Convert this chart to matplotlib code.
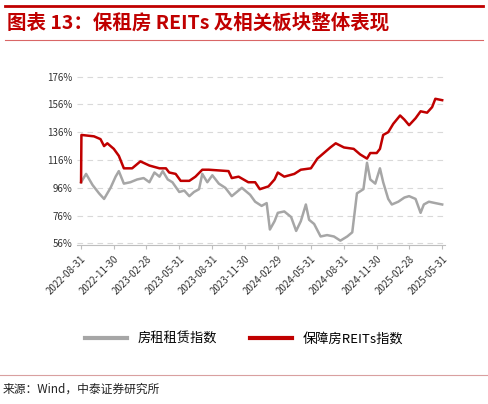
import matplotlib
matplotlib.use("Agg")
import matplotlib.pyplot as plt
import pandas as pd
from matplotlib.lines import Line2D

plt.rcParams['font.family'] = ['Noto Sans CJK SC', 'DejaVu Sans']

red_dates = ["2022-08-31","2022-09-01","2022-10-06","2022-10-24","2022-11-03","2022-11-12","2022-11-30","2022-12-14","2022-12-28",
 "2023-01-20","2023-02-12","2023-03-09","2023-04-06","2023-04-24","2023-05-03","2023-05-21","2023-06-04","2023-06-28",
 "2023-07-15","2023-08-03","2023-08-21","2023-10-15","2023-10-24","2023-11-12","2023-12-09","2023-12-28","2024-01-10",
 "2024-02-03","2024-02-20","2024-02-29","2024-03-18","2024-04-15","2024-05-03","2024-05-31","2024-06-18","2024-07-24",
 "2024-08-08","2024-08-31","2024-09-27","2024-10-15","2024-11-03","2024-11-12","2024-11-30","2024-12-09","2024-12-18",
 "2025-01-01","2025-01-15","2025-02-03","2025-02-15","2025-02-28","2025-03-18","2025-04-01","2025-04-19","2025-05-03",
 "2025-05-12","2025-05-31"]
red_vals = [100,134,133,131,126,128,124,119,110,
 110,115,112,110,110,107,106,101,101,
 104,109,109,108,103,104,100,100,95,
 97,102,107,104,106,109,110,117,125,
 128,125,124,120,117,121,121,124,134,
 136,142,148,145,141,146,151,150,154,
 160,159]

gray_dates = ["2022-08-31","2022-09-14","2022-10-02","2022-10-20","2022-11-03","2022-11-21","2022-12-05","2022-12-14","2022-12-28",
 "2023-01-15","2023-02-03","2023-02-21","2023-03-09","2023-03-23","2023-04-06","2023-04-15","2023-04-29","2023-05-12",
 "2023-05-31","2023-06-14","2023-06-28","2023-07-11","2023-07-25","2023-08-03","2023-08-17","2023-08-31","2023-09-18",
 "2023-10-06","2023-10-24","2023-11-21","2023-12-14","2023-12-28","2024-01-15","2024-01-29","2024-02-07","2024-02-20",
 "2024-02-29","2024-03-18","2024-04-06","2024-04-20","2024-05-03","2024-05-17","2024-05-26","2024-06-09","2024-06-27",
 "2024-07-15","2024-08-03","2024-08-21","2024-09-09","2024-09-23","2024-10-06","2024-10-24","2024-11-03","2024-11-12",
 "2024-11-26","2024-12-09","2024-12-18","2025-01-01","2025-01-11","2025-01-29","2025-02-15","2025-02-28","2025-03-18",
 "2025-04-01","2025-04-10","2025-04-24","2025-05-12","2025-05-31"]
gray_vals = [100,106,98,92,88,96,104,108,99,
 100,102,103,100,107,104,108,102,100,
 93,94,90,93,95,106,100,105,99,
 96,90,96,91,86,83,85,66,72,
 78,79,75,65,72,84,73,70,61,
 62,61,58,61,64,92,95,114,102,
 99,110,100,88,84,86,89,90,88,
 78,84,86,85,84]

tick_dates = ["2022-08-31","2022-11-30","2023-02-28","2023-05-31","2023-08-31","2023-11-30",
 "2024-02-29","2024-05-31","2024-08-31","2024-11-30","2025-02-28","2025-05-31"]
y_ticks = [56,76,96,116,136,156,176]
series_names = ["房租租赁指数", "保障房REITs指数"]
title = "图表 13：保租房 REITs 及相关板块整体表现"
source = "来源：Wind，中泰证券研究所"

RED = "#C00000"
GRAY = "#A6A6A6"

fig = plt.figure(figsize=(4.88, 4.04), dpi=100)
ax = fig.add_axes([0.158, 0.394, 0.754, 0.42])
ax.plot(pd.to_datetime(gray_dates), gray_vals, color=GRAY, lw=1.8)
ax.plot(pd.to_datetime(red_dates), red_vals, color=RED, lw=1.8)
ax.set_ylim(55, 177)
ax.set_yticks(y_ticks)
ax.set_yticklabels([f"{v}%" for v in y_ticks], fontsize=7, color="#333333")
td = pd.to_datetime(tick_dates)
ax.set_xticks(td)
ax.set_xticklabels([d.strftime("%Y-%m-%d") for d in td], rotation=45, ha="right",
                   rotation_mode="anchor", fontsize=7, color="#333333")
ax.set_xlim(pd.Timestamp("2022-08-20"), pd.Timestamp("2025-06-08"))
ax.grid(axis="y", color="#D9D9D9", ls=(0, (5, 4)), lw=0.8)
for s in ["top", "right", "left"]:
    ax.spines[s].set_visible(False)
ax.spines["bottom"].set_color("#BFBFBF")
ax.tick_params(axis="y", length=0)
ax.tick_params(axis="x", length=3, color="#BFBFBF")

handles = [Line2D([], [], color=GRAY, lw=3), Line2D([], [], color=RED, lw=3)]
fig.legend(handles, series_names, loc="center", bbox_to_anchor=(0.5, 0.16), ncol=2,
           frameon=False, fontsize=9.5, handlelength=3.2, columnspacing=2.5)

fig.add_artist(Line2D([0.01, 0.99], [0.985, 0.985], color=RED, lw=2))
fig.add_artist(Line2D([0.01, 0.99], [0.90, 0.90], color=RED, lw=0.8, alpha=0.6))
fig.text(0.015, 0.943, title, color=RED, fontsize=14, fontweight="bold",
         fontstyle="italic", va="center")
fig.add_artist(Line2D([0.0, 1.0], [0.073, 0.073], color="#D9A0A0", lw=0.8))
fig.text(0.005, 0.038, source, color="#222222", fontsize=8.5, va="center")

fig.savefig("out.png", dpi=100)
